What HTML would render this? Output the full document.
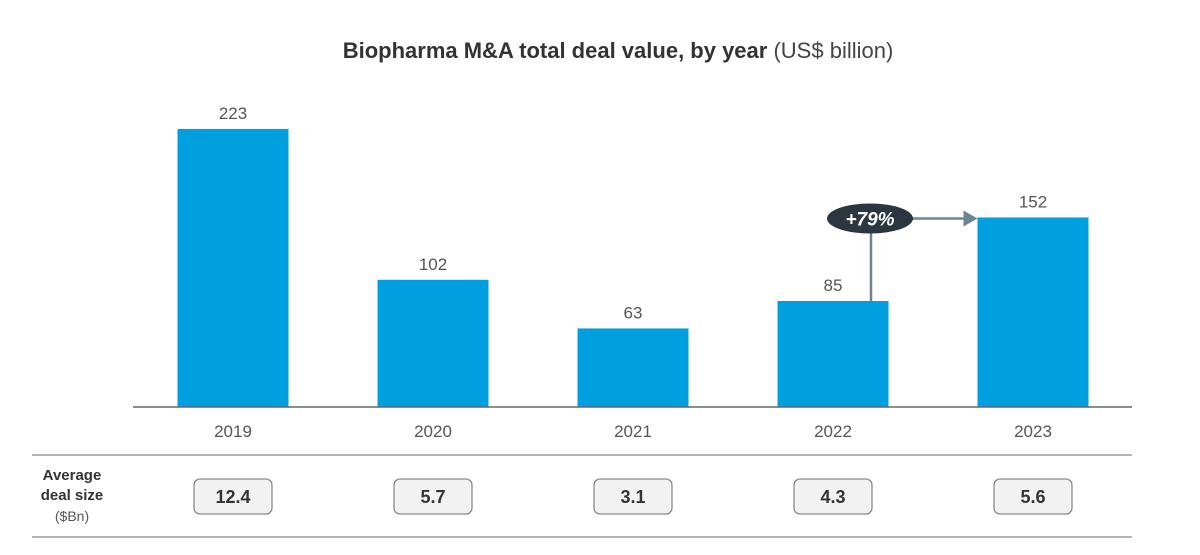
<!DOCTYPE html>
<html><head><meta charset="utf-8"><style>
body{margin:0;background:#fff;font-family:"Liberation Sans",Arial,sans-serif;}
svg{display:block}
</style></head><body>
<svg id="chart" width="1200" height="555" xmlns="http://www.w3.org/2000/svg">
<text x="618" y="58" text-anchor="middle" font-size="22" fill="#333"><tspan font-weight="bold">Biopharma M&amp;A total deal value, by year</tspan> <tspan fill="#444">(US$ billion)</tspan></text>
<g id="bars"></g>
<line x1="133" y1="407" x2="1132" y2="407" stroke="#666" stroke-width="1.5"/>
<line x1="32" y1="455" x2="1132" y2="455" stroke="#888" stroke-width="1.2"/>
<line x1="32" y1="537" x2="1132" y2="537" stroke="#888" stroke-width="1.2"/>
<g font-size="15" text-anchor="middle" fill="#333">
<text x="72" y="480" font-weight="bold">Average</text>
<text x="72" y="500" font-weight="bold">deal size</text>
<text x="72" y="521" font-size="14" fill="#555">($Bn)</text>
</g>
<g id="growth"></g>
</svg>
<script>
const years = ["2019","2020","2021","2022","2023"];
const dealValues = [223, 102, 63, 85, 152];
const avgDealSize = ["12.4","5.7","3.1","4.3","5.6"];
const growthLabel = "+79%";

const NS = "http://www.w3.org/2000/svg";
const baseY = 407, scale = 1.247, x0 = 133, band = 200, barW = 111;
const xc = i => x0 + band*i + band/2;
const yv = v => baseY - v*scale;
function mk(tag, attrs, parent){const e=document.createElementNS(NS,tag);for(const k in attrs)e.setAttribute(k,attrs[k]);parent.appendChild(e);return e;}
const g = document.getElementById('bars');
years.forEach((yr,i)=>{
  const r = mk('rect',{x:xc(i)-barW/2,y:yv(dealValues[i]),width:barW,height:dealValues[i]*scale,fill:'#009fe0'},g);
  
  
  const t = mk('text',{x:xc(i),y:yv(dealValues[i])-10,'text-anchor':'middle','font-size':'17',fill:'#555'},g);
  t.textContent = dealValues[i];
  
  
  const yl = mk('text',{x:xc(i),y:437,'text-anchor':'middle','font-size':'17',fill:'#555'},g);
  yl.textContent = yr;
  
  
  const b = mk('rect',{x:xc(i)-39,y:479,width:78,height:35,rx:6,fill:'#f2f2f2',stroke:'#8a8a8a','stroke-width':1.3},g);
  
  
  const bt = mk('text',{x:xc(i),y:503,'text-anchor':'middle','font-size':'18','font-weight':'bold',fill:'#333'},g);
  bt.textContent = avgDealSize[i];
  
  
});
const a = document.getElementById('growth');
const vx = xc(3)+38, ey = yv(dealValues[4])+1, tx = xc(4)-barW/2;
mk('line',{x1:vx,y1:yv(dealValues[3]),x2:vx,y2:ey,stroke:'#6d8493','stroke-width':2.5},a);
mk('line',{x1:vx,y1:ey,x2:tx-12,y2:ey,stroke:'#6d8493','stroke-width':2.5},a);
mk('polygon',{points:`${tx-14},${ey-8} ${tx},${ey} ${tx-14},${ey+8}`,fill:'#6d8493'},a);
mk('ellipse',{cx:vx-1,cy:ey,rx:43,ry:15,fill:'#2b3640'},a);
const gt = mk('text',{x:vx-1,y:ey+7,'text-anchor':'middle','font-size':'19','font-weight':'bold','font-style':'italic',fill:'#fff'},a);
gt.textContent = growthLabel;


</script>
</body></html>
